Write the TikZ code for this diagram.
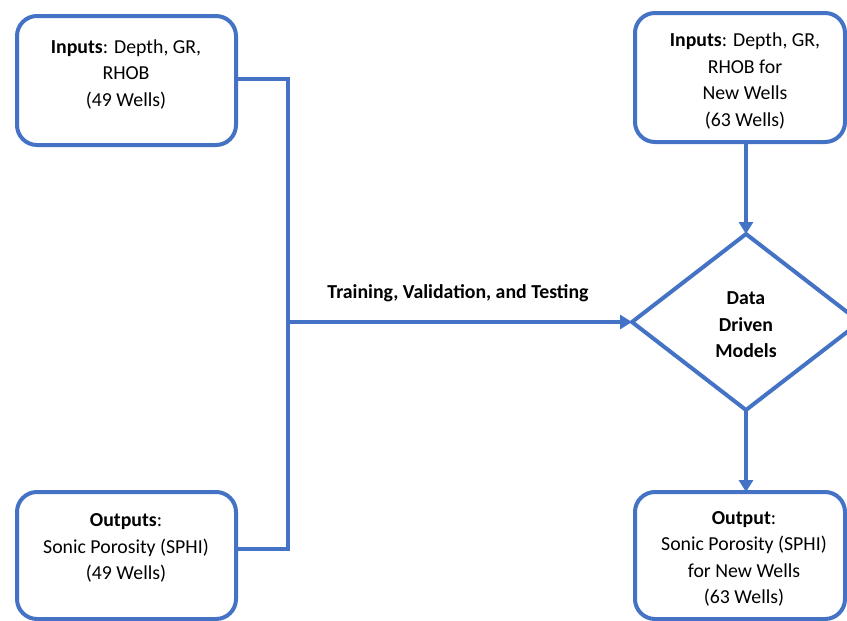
\documentclass[tikz,border=0pt]{standalone}
\usepackage{fontspec}
\setmainfont{Carlito}
\usetikzlibrary{arrows.meta,shapes.geometric}
\definecolor{obl}{HTML}{4472C4}
\tikzset{
  box/.style={draw=obl,line width=4pt,rounded corners=20pt,fill=white},
  txt/.style={align=center,font=\fontsize{19.8}{26.5}\selectfont,inner sep=0pt},
  conn/.style={draw=obl,line width=4pt},
  arr/.style={conn,-{Triangle[length=12pt,width=14pt]}}
}
\begin{document}
\begin{tikzpicture}[x=1pt,y=-1pt]
\useasboundingbox (0,0) rectangle (847,621);
\clip (0,0) rectangle (847,621);
\fill[white] (0,0) rectangle (847,621);
% boxes
\draw[box] (17,16) rectangle (236,145);
\coordinate (b1r) at (236,79);
\draw[box] (17,492) rectangle (236,619);
\coordinate (b2r) at (236,549);
\draw[box] (635,13) rectangle (845,142);
\coordinate (b3b) at (746,142);
\draw[box] (635,492) rectangle (845,619);
\coordinate (b4t) at (746,492);
% diamond
\draw[conn,line join=miter] (746,234) -- (860,322) -- (746,410) -- (632,322) -- cycle;
\coordinate (dt) at (746,234);
\coordinate (db) at (746,410);
\coordinate (dl) at (632,322);
\coordinate (j) at (288,322);
% texts
\node[txt] (t1) at (126,74) {\textbf{Inputs}: Depth, GR,\\RHOB\\(49 Wells)};
\node[txt] (t2) at (126,548) {\textbf{Outputs}:\\Sonic Porosity (SPHI)\\(49 Wells)};
\node[txt] (t3) at (745,81) {\textbf{Inputs}: Depth, GR,\\RHOB for\\New Wells\\(63 Wells)};
\node[txt] (t4) at (744,559) {\textbf{Output}:\\Sonic Porosity (SPHI)\\for New Wells\\(63 Wells)};
\node[txt,font=\fontsize{19.8}{26.5}\selectfont\bfseries] (t5) at (746,325) {Data\\Driven\\Models};
\node[txt,font=\fontsize{19.8}{24}\selectfont\bfseries] (lab) at (458,293) {Training, Validation, and Testing};
% connectors
\draw[conn] (b1r) -| (j);
\draw[conn] (b2r) -| (j);
\draw[arr] (j) -- (dl);
\draw[arr] (b3b) -- (dt);
\draw[arr] (db) -- (b4t);
\end{tikzpicture}
\end{document}
